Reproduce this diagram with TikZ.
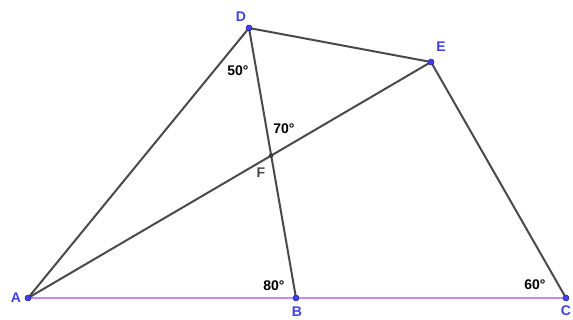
\documentclass[tikz,border=0pt]{standalone}
\usepackage{fontspec}
\setmainfont{Liberation Sans}
\definecolor{seg}{HTML}{4A4A4A}
\definecolor{ptblue}{HTML}{3F3FEF}
\definecolor{lilac}{HTML}{C38BF2}
\begin{document}
\begin{tikzpicture}[x=1pt,y=-1pt,
  seg/.style={draw=seg,line width=2pt},
  base/.style={draw=lilac,line width=1.6pt},
  pt/.style={circle,fill=ptblue,draw=ptblue!60!black,line width=0.5pt,inner sep=0pt,minimum size=6pt},
  fpt/.style={circle,fill=seg!80!black,inner sep=0pt,minimum size=4.5pt},
  plab/.style={text=ptblue,font=\bfseries\fontsize{14}{14}\selectfont,inner sep=0pt},
  flab/.style={text=seg,font=\bfseries\fontsize{14}{14}\selectfont,inner sep=0pt},
  alab/.style={text=black,font=\bfseries\fontsize{14}{14}\selectfont,inner sep=0pt}]
\useasboundingbox (0,0) rectangle (573,320);
\coordinate (A) at (28,298);
\coordinate (B) at (296,298);
\coordinate (C) at (566,298);
\coordinate (D) at (249,28);
\coordinate (E) at (431,62);
\coordinate (F) at (271,155.5);
\draw[base] (A) -- (C);
\draw[seg] (A) -- (D);
\draw[seg] (D) -- (E);
\draw[seg] (E) -- (C);
\draw[seg] (A) -- (E);
\draw[seg] (D) -- (B);
\node[pt] (nA) at (A) {};
\node[pt] (nB) at (B) {};
\node[pt] (nC) at (C) {};
\node[pt] (nD) at (D) {};
\node[pt] (nE) at (E) {};
\node[fpt] (nF) at (F) {};
\node[plab] (lA) at (16,298) {A};
\node[plab] (lB) at (297,312) {B};
\node[plab] (lC) at (566,311) {C};
\node[plab] (lD) at (241,17) {D};
\node[plab] (lE) at (441,47) {E};
\node[flab] (lF) at (261,173) {F};
\node[alab] (a50) at (238,71) {50°};
\node[alab] (a70) at (284,129) {70°};
\node[alab] (a80) at (274,286) {80°};
\node[alab] (a60) at (535,285) {60°};
\end{tikzpicture}
\end{document}
